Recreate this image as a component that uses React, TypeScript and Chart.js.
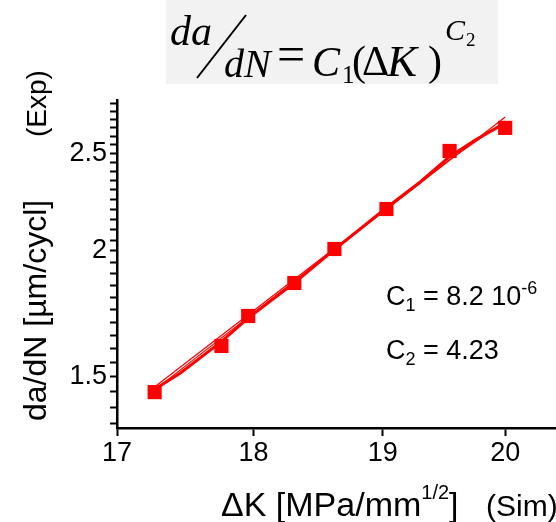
import { useEffect, useRef } from 'react';
import { Chart, registerables } from 'chart.js';

Chart.register(...registerables);

// Experimental crack growth points (ΔK in MPa/mm^1/2, da/dN in µm/cycle)
const expDeltaK = [17.27, 17.76, 17.96, 18.31, 18.62, 19.03, 19.54, 20.0];
const expRate = [1.449, 1.61, 1.724, 1.859, 2.009, 2.201, 2.513, 2.649];

// Simulated growth curve
const simDeltaK = [17.25, 17.455, 17.757, 17.959, 18.308, 18.617, 19.028, 19.301, 19.537, 19.751, 19.959];
const simRate = [1.453, 1.513, 1.625, 1.716, 1.859, 2.005, 2.206, 2.341, 2.479, 2.577, 2.661];

// Paris-law fit lines (straight on log-log axes)
const fitADeltaK = [17.25, 20.0];
const fitARate = [1.449, 2.716];
const fitBDeltaK = [17.25, 19.537, 20.0];
const fitBRate = [1.459, 2.462, 2.691];

const xTicks = [17, 18, 19, 20];
const yTicks = [
  1.35, 1.4, 1.45, 1.5, 1.55, 1.6, 1.65, 1.7, 1.75, 1.8, 1.85, 1.9, 1.95, 2,
  2.05, 2.1, 2.15, 2.2, 2.25, 2.3, 2.35, 2.4, 2.45, 2.5, 2.55, 2.6, 2.65, 2.7, 2.75, 2.8,
];
const yLabelled = [1.5, 2, 2.5];

const RED = '#ff0000';
const SANS = "'Liberation Sans', Arial, Helvetica, sans-serif";
const SERIF = "'Liberation Serif', 'Times New Roman', Times, serif";

const toPoints = (xs: number[], ys: number[]) => xs.map((x, i) => ({ x, y: ys[i] }));

// Draws text pieces left to right, each with its own font and baseline shift
function drawRun(ctx: CanvasRenderingContext2D, x: number, y: number, parts: [string, string, number][]) {
  let cx = x;
  for (const [text, font, dy] of parts) {
    ctx.font = font;
    ctx.fillText(text, cx, y + dy);
    cx += ctx.measureText(text).width;
  }
  return cx;
}

const textPlugin = {
  id: 'formulaAndTitles',
  beforeDraw(chart: Chart) {
    const ctx = chart.ctx;
    ctx.save();
    ctx.fillStyle = '#f2f2f2';
    ctx.fillRect(166, 0, 332, 84);
    ctx.restore();
  },
  afterDraw(chart: Chart) {
    const ctx = chart.ctx;
    ctx.save();
    ctx.fillStyle = '#000';
    ctx.strokeStyle = '#000';
    ctx.textBaseline = 'alphabetic';
    ctx.textAlign = 'left';

    // Paris law: da/dN = C1 (ΔK)^C2
    ctx.font = `italic 42px ${SERIF}`;
    ctx.fillText('da', 170, 45);
    ctx.lineWidth = 2;
    ctx.beginPath();
    ctx.moveTo(197, 78);
    ctx.lineTo(246, 15);
    ctx.stroke();
    ctx.font = `italic 40px ${SERIF}`;
    ctx.fillText('dN', 224, 77);
    ctx.font = `50px ${SERIF}`;
    ctx.fillText('=', 277, 71);
    ctx.font = `italic 42px ${SERIF}`;
    ctx.fillText('C', 312, 76);
    ctx.font = `25px ${SERIF}`;
    ctx.fillText('1', 342, 83);
    ctx.font = `42px ${SERIF}`;
    ctx.fillText('(', 352, 75);
    ctx.fillText('Δ', 362, 75);
    ctx.font = `italic 45px ${SERIF}`;
    ctx.fillText('K', 387, 76);
    ctx.font = `42px ${SERIF}`;
    ctx.fillText(')', 428, 75);
    ctx.font = `italic 30px ${SERIF}`;
    ctx.fillText('C', 445, 40);
    ctx.font = `19px ${SERIF}`;
    ctx.fillText('2', 466, 46);

    // Fit constants
    const big = `27px ${SANS}`;
    const small = `18px ${SANS}`;
    drawRun(ctx, 386, 305, [
      ['C', big, 0],
      ['1', small, 6],
      [' = 8.2 10', big, 0],
      ['-6', small, -11],
    ]);
    drawRun(ctx, 386, 359, [
      ['C', big, 0],
      ['2', small, 6],
      [' = 4.23', big, 0],
    ]);

    // x-axis title
    drawRun(ctx, 221, 516, [
      ['ΔK [MPa/mm', `34px ${SANS}`, 0],
      ['1/2', `20px ${SANS}`, -17],
      [']', `34px ${SANS}`, 0],
    ]);
    ctx.font = `30px ${SANS}`;
    ctx.fillText('(Sim)', 486, 516);

    // y-axis title
    ctx.translate(46, 421);
    ctx.rotate(-Math.PI / 2);
    ctx.font = `32px ${SANS}`;
    ctx.fillText('da/dN [µm/cycl]', 0, 0);
    ctx.font = `28px ${SANS}`;
    ctx.fillText('(Exp)', 284, 0);
    ctx.restore();
  },
};

export default function App() {
  const canvasRef = useRef<HTMLCanvasElement | null>(null);

  useEffect(() => {
    if (!canvasRef.current) return;
    const chart = new Chart(canvasRef.current, {
      type: 'line',
      data: {
        datasets: [
          {
            label: 'Exp',
            data: toPoints(expDeltaK, expRate),
            showLine: false,
            pointStyle: 'rect',
            pointRadius: 10,
            pointBackgroundColor: RED,
            pointBorderWidth: 0,
            borderColor: RED,
          },
          {
            label: 'Sim',
            data: toPoints(simDeltaK, simRate),
            borderColor: RED,
            borderWidth: 3,
            pointRadius: 0,
            tension: 0,
          },
          {
            label: 'Fit A',
            data: toPoints(fitADeltaK, fitARate),
            borderColor: RED,
            borderWidth: 1.2,
            pointRadius: 0,
          },
          {
            label: 'Fit B',
            data: toPoints(fitBDeltaK, fitBRate),
            borderColor: RED,
            borderWidth: 1.2,
            pointRadius: 0,
          },
        ],
      },
      options: {
        responsive: false,
        animation: false,
        layout: { autoPadding: false, padding: { top: 100, left: 0, right: 0, bottom: 0 } },
        plugins: { legend: { display: false }, tooltip: { enabled: false } },
        scales: {
          x: {
            type: 'logarithmic',
            bounds: 'data',
            min: 17,
            max: 20.43,
            afterBuildTicks: (scale: any) => {
              scale.ticks = xTicks.map((v) => ({ value: v }));
            },
            afterFit: (scale: any) => {
              scale.height = 94;
              scale.paddingLeft = 0;
              scale.paddingRight = 0;
            },
            border: { display: true, color: '#000', width: 2.5 },
            grid: {
              drawOnChartArea: false,
              drawTicks: true,
              tickLength: 8,
              tickWidth: 2,
              tickColor: '#000',
            },
            ticks: {
              autoSkip: false,
              maxRotation: 0,
              padding: 1,
              color: '#000',
              font: { family: SANS, size: 27 },
              callback: (v: any) => String(v),
            },
          },
          y: {
            type: 'logarithmic',
            bounds: 'data',
            min: 1.335,
            max: 2.823,
            afterBuildTicks: (scale: any) => {
              scale.ticks = yTicks.map((v) => ({ value: v }));
            },
            afterFit: (scale: any) => {
              scale.width = 117;
              scale.paddingTop = 0;
              scale.paddingBottom = 0;
            },
            border: { display: true, color: '#000', width: 2.5 },
            grid: {
              drawOnChartArea: false,
              drawTicks: true,
              tickLength: 7,
              tickWidth: 2,
              tickColor: '#000',
            },
            ticks: {
              autoSkip: false,
              padding: 3,
              color: '#000',
              font: { family: SANS, size: 27 },
              callback: (v: any) => {
                const n = Number(v);
                return yLabelled.some((l) => Math.abs(l - n) < 1e-9) ? String(n) : '';
              },
            },
          },
        },
      },
      plugins: [textPlugin],
    });
    return () => chart.destroy();
  }, []);

  return (
    <div style={{ position: 'absolute', left: 0, top: 0, width: 556, height: 522, background: '#fff' }}>
      <canvas ref={canvasRef} width={556} height={522} />
    </div>
  );
}
